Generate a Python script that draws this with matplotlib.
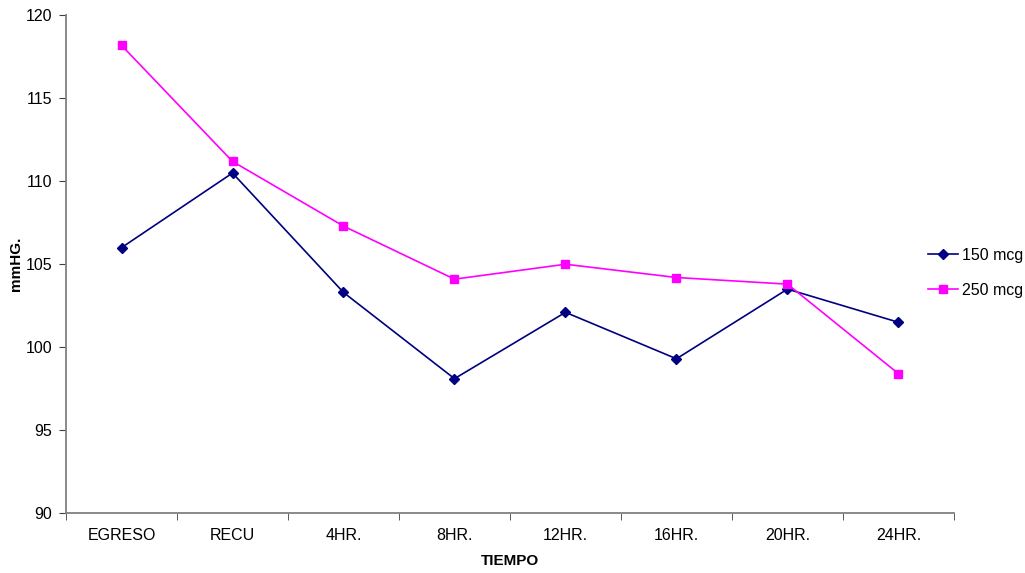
import numpy as np
import matplotlib.pyplot as plt
from matplotlib.ticker import FixedLocator, NullFormatter

plt.rcParams['font.family'] = ['Liberation Sans', 'DejaVu Sans']

# datos: presión media (mmHg) por tiempo
tiempos = ["EGRESO", "RECU", "4HR.", "8HR.", "12HR.", "16HR.", "20HR.", "24HR."]
dosis_150 = [106.0, 110.5, 103.3, 98.1, 102.1, 99.3, 103.5, 101.5]
dosis_250 = [118.2, 111.2, 107.3, 104.1, 105.0, 104.2, 103.8, 98.4]

fig = plt.figure(figsize=(10.25, 5.73), dpi=100)
ax = fig.add_axes([0.0644, 0.1047, 0.8663, 0.8683])

x = np.arange(len(tiempos))
ax.plot(x, dosis_150, color="#000080", marker="D", markersize=5, lw=1.2,
        label="150 mcg")
ax.plot(x, dosis_250, color="#FF00FF", marker="s", markersize=6, lw=1.2,
        label="250 mcg")

ax.set_xlim(-0.5, len(tiempos) - 0.5)
ax.set_ylim(90, 120)
ax.set_yticks(np.arange(90, 121, 5))

# etiquetas centradas, marcas entre categorías
ax.set_xticks(x)
ax.set_xticklabels(tiempos)
ax.tick_params(axis="x", which="major", length=0, pad=11)
ax.xaxis.set_minor_locator(FixedLocator(np.arange(-0.5, len(tiempos), 1)))
ax.xaxis.set_minor_formatter(NullFormatter())
ax.tick_params(axis="x", which="minor", length=5, color="#404040")
ax.tick_params(axis="y", length=5, color="#404040", pad=5)
ax.tick_params(labelsize=11.5)

for s in ["top", "right"]:
    ax.spines[s].set_visible(False)
for s in ["left", "bottom"]:
    ax.spines[s].set_color("#808080")
    ax.spines[s].set_linewidth(1.3)

ax.set_xlabel("TIEMPO", fontsize=11, fontweight="bold")
ax.set_ylabel("mmHG.", fontsize=11, fontweight="bold")
ax.xaxis.set_label_coords(0.5, -0.083)
ax.yaxis.set_label_coords(-0.048, 0.5)

fig.legend(*ax.get_legend_handles_labels(), loc="center left",
           bbox_to_anchor=(0.905, 0.524), frameon=False,
           fontsize=11.5, handlelength=1.9, handletextpad=0.25,
           labelspacing=1.25, borderaxespad=0.0, borderpad=0.0)

fig.savefig("out.png", dpi=100)
